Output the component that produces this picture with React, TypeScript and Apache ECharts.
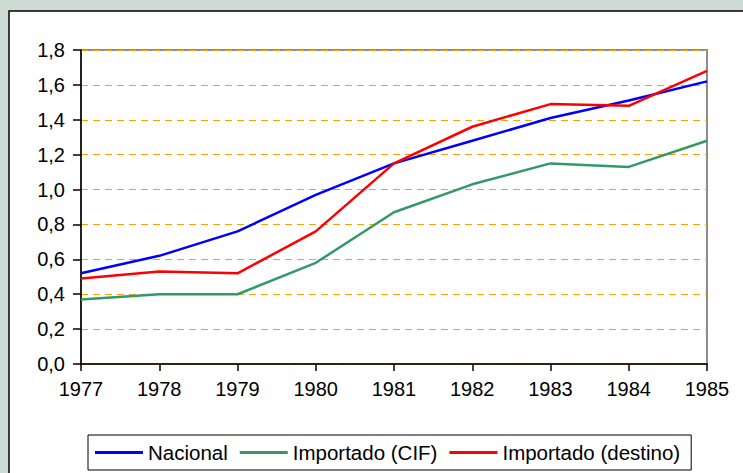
import React, { useEffect, useRef } from "react";
import * as echarts from "echarts";

const years = ["1977", "1978", "1979", "1980", "1981", "1982", "1983", "1984", "1985"];
const nacional = [0.52, 0.62, 0.76, 0.97, 1.15, 1.28, 1.41, 1.51, 1.62];
const importadoCIF = [0.37, 0.4, 0.4, 0.58, 0.87, 1.03, 1.15, 1.13, 1.28];
const importadoDestino = [0.49, 0.53, 0.52, 0.76, 1.15, 1.36, 1.49, 1.48, 1.68];
const seriesNames = ["Nacional", "Importado (CIF)", "Importado (destino)"];

const FONT = "'Liberation Sans', Arial, sans-serif";

export default function App() {
  const ref = useRef<HTMLDivElement>(null);
  useEffect(() => {
    if (!ref.current) return;
    const chart = echarts.init(ref.current, null, { renderer: "svg" });
    chart.setOption({
      animation: false,
      backgroundColor: "#ccdcd4",
      graphic: [
        {
          type: "rect",
          z: -10,
          shape: { x: 9, y: 11, width: 800, height: 500 },
          style: { fill: "#ffffff", stroke: "#000000", lineWidth: 1.5 },
        },
      ],
      grid: {
        left: 81,
        top: 50,
        right: 36,
        bottom: 109,
        show: true,
        backgroundColor: "transparent",
        borderColor: "#8c8c8c",
        borderWidth: 2,
      },
      legend: {
        left: 88,
        top: 435,
        data: seriesNames,
        icon: "rect",
        itemWidth: 48,
        itemHeight: 3,
        itemGap: 12,
        padding: [7, 11, 7, 7],
        borderColor: "#000000",
        borderWidth: 1,
        backgroundColor: "#ffffff",
        textStyle: { fontFamily: FONT, fontSize: 20.5, color: "#000" },
      },
      xAxis: {
        type: "category",
        data: years,
        boundaryGap: false,
        axisLine: { lineStyle: { color: "#000", width: 1.5 } },
        axisTick: { show: true, length: 7, interval: 0, lineStyle: { color: "#000", width: 1.5 } },
        axisLabel: { interval: 0, margin: 15, fontFamily: FONT, fontSize: 20, color: "#000" },
        splitLine: { show: false },
      },
      yAxis: {
        type: "value",
        min: 0,
        max: 1.8,
        interval: 0.2,
        axisLine: { show: true, lineStyle: { color: "#000", width: 1.5 } },
        axisTick: { show: true, length: 8, lineStyle: { color: "#000", width: 1.5 } },
        axisLabel: {
          margin: 16,
          fontFamily: FONT,
          fontSize: 20,
          color: "#000",
          formatter: (v: number) => v.toFixed(1).replace(".", ","),
        },
        splitLine: { show: true, lineStyle: { color: "#ffa200", width: 1, type: [7, 5] } },
      },
      series: [
        {
          name: seriesNames[0],
          type: "line",
          data: nacional,
          showSymbol: false,
          color: "#0000ff",
          lineStyle: { color: "#0000ff", width: 2.5 },
        },
        {
          name: seriesNames[1],
          type: "line",
          data: importadoCIF,
          showSymbol: false,
          color: "#339966",
          lineStyle: { color: "#339966", width: 2.5 },
        },
        {
          name: seriesNames[2],
          type: "line",
          data: importadoDestino,
          showSymbol: false,
          color: "#ff0000",
          lineStyle: { color: "#ff0000", width: 2.5 },
        },
      ],
    });
    return () => chart.dispose();
  }, []);
  return (
    <div
      ref={ref}
      style={{ position: "absolute", left: 0, top: 0, width: 743, height: 473 }}
    />
  );
}
